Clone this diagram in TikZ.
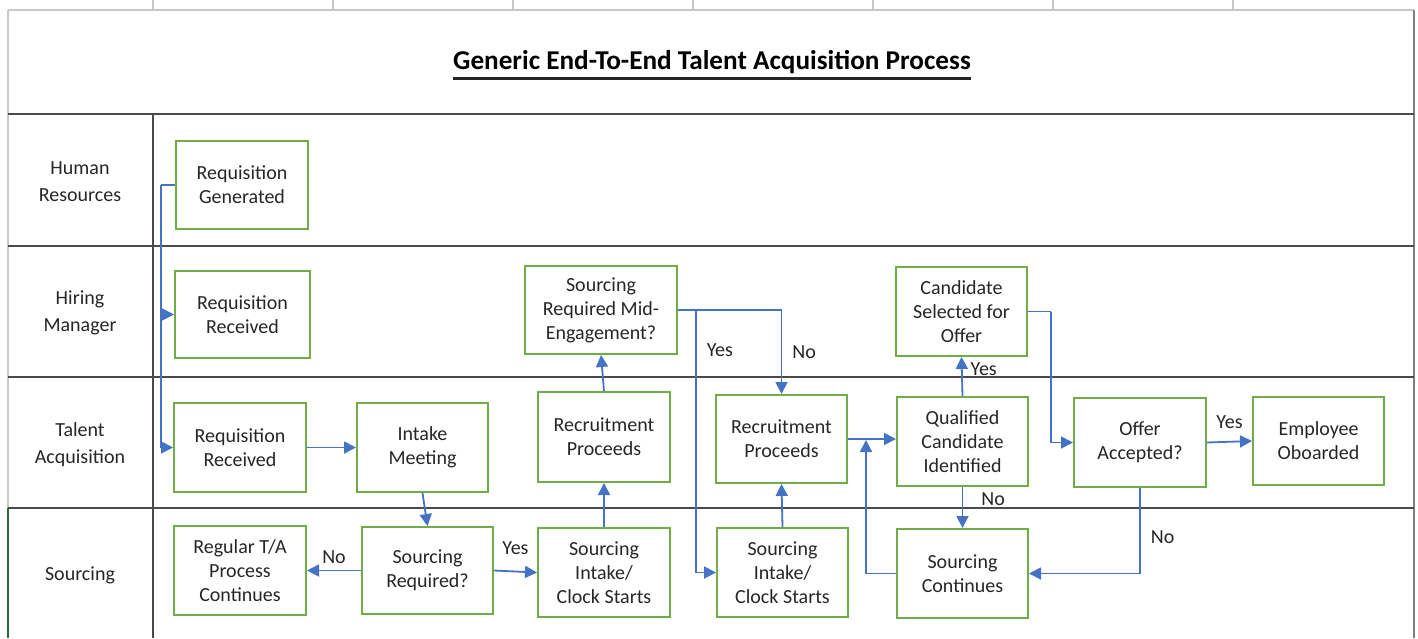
\documentclass[tikz,border=0pt]{standalone}
\usepackage{fontspec}
\setmainfont{Carlito}
\usetikzlibrary{arrows.meta}
\definecolor{boxgreen}{HTML}{70AD47}
\definecolor{linkblue}{HTML}{4472C4}
\definecolor{txt}{HTML}{262626}
\definecolor{lanegray}{HTML}{4A4A4A}
\definecolor{lightgray}{HTML}{C8C8C8}
\definecolor{framegreen}{HTML}{2E6B3A}
\tikzset{
  box/.style={draw=boxgreen, line width=1pt, align=center, inner sep=0pt, text=txt,
    font=\fontsize{10}{12}\selectfont},
  lanelabel/.style={align=center, text=txt, font=\fontsize{10}{13.5}\selectfont},
  arr/.style={draw=linkblue, line width=0.9pt, -{Triangle[length=6pt,width=6pt]}},
  seg/.style={draw=linkblue, line width=0.9pt},
  lbl/.style={text=txt, font=\fontsize{10}{12}\selectfont, inner sep=0pt},
  lane/.style={draw=lanegray, line width=1.1pt},
  grid/.style={draw=lightgray, line width=0.8pt}
}
\newcommand\bx[6]{\node[box, minimum width={(#4-#2)*0.5pt}, minimum height={(#5-#3)*0.5pt}] (#1) at ({(#2+#4)/2},{(#3+#5)/2}) {#6};}
\begin{document}
\begin{tikzpicture}[x=0.5pt,y=-0.5pt]
\useasboundingbox (0,0) rectangle (1418,638);
% top spreadsheet ticks
\foreach \t in {153,333,513,693,873,1053,1233}{\draw[grid] (\t,0) -- (\t,9);}
\draw[grid] (8,10) -- (1414,10);
\draw[grid] (8,10) -- (8,508);
\draw[draw=framegreen, line width=0.8pt] (8,508) -- (8,638);
\draw[grid, draw=gray] (1414,10) -- (1414,638);
% lanes
\foreach \y in {114,246,377,508}{\draw[lane] (8,\y) -- (1414,\y);}
\draw[lane] (153,114) -- (153,638);
% title
\node[text=black, inner sep=0pt, font=\fontsize{13.6}{15}\selectfont\bfseries] (title) at (712,62) {Generic End-To-End Talent Acquisition Process};
\draw[line width=1.2pt, draw=black!85] ([yshift=-2.2pt]title.south west) -- ([yshift=-2.2pt]title.south east);
% lane labels
\node[lanelabel] (lhr) at (80,181.5) {Human\\Resources};
\node[lanelabel] (lhm) at (80,312.5) {Hiring\\Manager};
\node[lanelabel] (lta) at (80,444.5) {Talent\\Acquisition};
\node[lanelabel] (lsc) at (80,575) {Sourcing};
% boxes
\bx{rg}{176}{141}{308}{229}{Requisition\\Generated}
\bx{hm}{175}{271}{310}{358}{Requisition\\Received}
\bx{ta}{174}{403}{306}{492}{Requisition\\Received}
\bx{rtc}{174}{526}{306}{615}{Regular T/A\\Process\\Continues}
\bx{im}{357}{403}{488}{492}{Intake\\Meeting}
\bx{sr}{362}{527}{493}{614}{Sourcing\\Required?}
\bx{mid}{525}{266}{677}{354}{Sourcing\\Required Mid-\\Engagement?}
\bx{rp1}{538}{392}{670}{482}{Recruitment\\Proceeds}
\bx{si1}{538}{528}{670}{617}{Sourcing\\Intake/\\Clock Starts}
\bx{rp2}{716}{395}{847}{483}{Recruitment\\Proceeds}
\bx{si2}{717}{528}{848}{617}{Sourcing\\Intake/\\Clock Starts}
\bx{cso}{896}{267}{1027}{356}{Candidate\\Selected for\\Offer}
\bx{qci}{897}{397}{1028}{486}{Qualified\\Candidate\\Identified}
\bx{sc}{897}{529}{1028}{618}{Sourcing\\Continues}
\bx{oa}{1074}{398}{1206}{487}{Offer\\Accepted?}
\bx{eo}{1253}{397}{1384}{485}{Employee\\Oboarded}
% junction coordinates
\coordinate (j1) at (161,185);
\coordinate (j2) at (696,310);
\coordinate (j3) at (866,440);
\coordinate (j4) at (1051,311.5);
% connectors
\draw[seg] (rg.west) -- (j1);
\draw[arr] (j1) |- (hm.west);
\draw[arr] (j1) |- (ta.west);
\draw[arr] (ta.east) -- (im.west);
\draw[arr] (im.south) -- (sr.north);
\draw[arr] (sr.west) -- (rtc.east) node[lbl, midway, above=3pt] {No};
\draw[arr] (sr.east) -- (si1.west) node[lbl, midway, above=8pt] {Yes};
\draw[arr] (si1.north) -- (rp1.south);
\draw[arr] (rp1.north) -- (mid.south);
\draw[arr] (mid.east) -| (rp2.north) node[lbl, pos=0.75, right=5pt] {No};
\draw[arr] (j2) |- (si2.west) node[lbl, pos=0.076, right=5pt] {Yes};
\draw[arr] (si2.north) -- (rp2.south);
\draw[arr] (rp2.east) -- (rp2.east -| qci.west);
\draw[arr] (sc.west) -| (j3);
\draw[arr] (qci.north) -- (cso.south) node[lbl, pos=0.7, right=4pt] {Yes};
\draw[arr] (qci.south) -- (sc.north) node[lbl, pos=0.3, right=9pt] {No};
\draw[seg] (cso.east) -- (j4);
\draw[arr] (j4) |- (oa.west);
\draw[arr] (oa.east) -- (eo.west) node[lbl, midway, above=6pt] {Yes};
\draw[arr] (oa.south) |- (sc.east) node[lbl, pos=0.29, right=5pt] {No};
\end{tikzpicture}
\end{document}
